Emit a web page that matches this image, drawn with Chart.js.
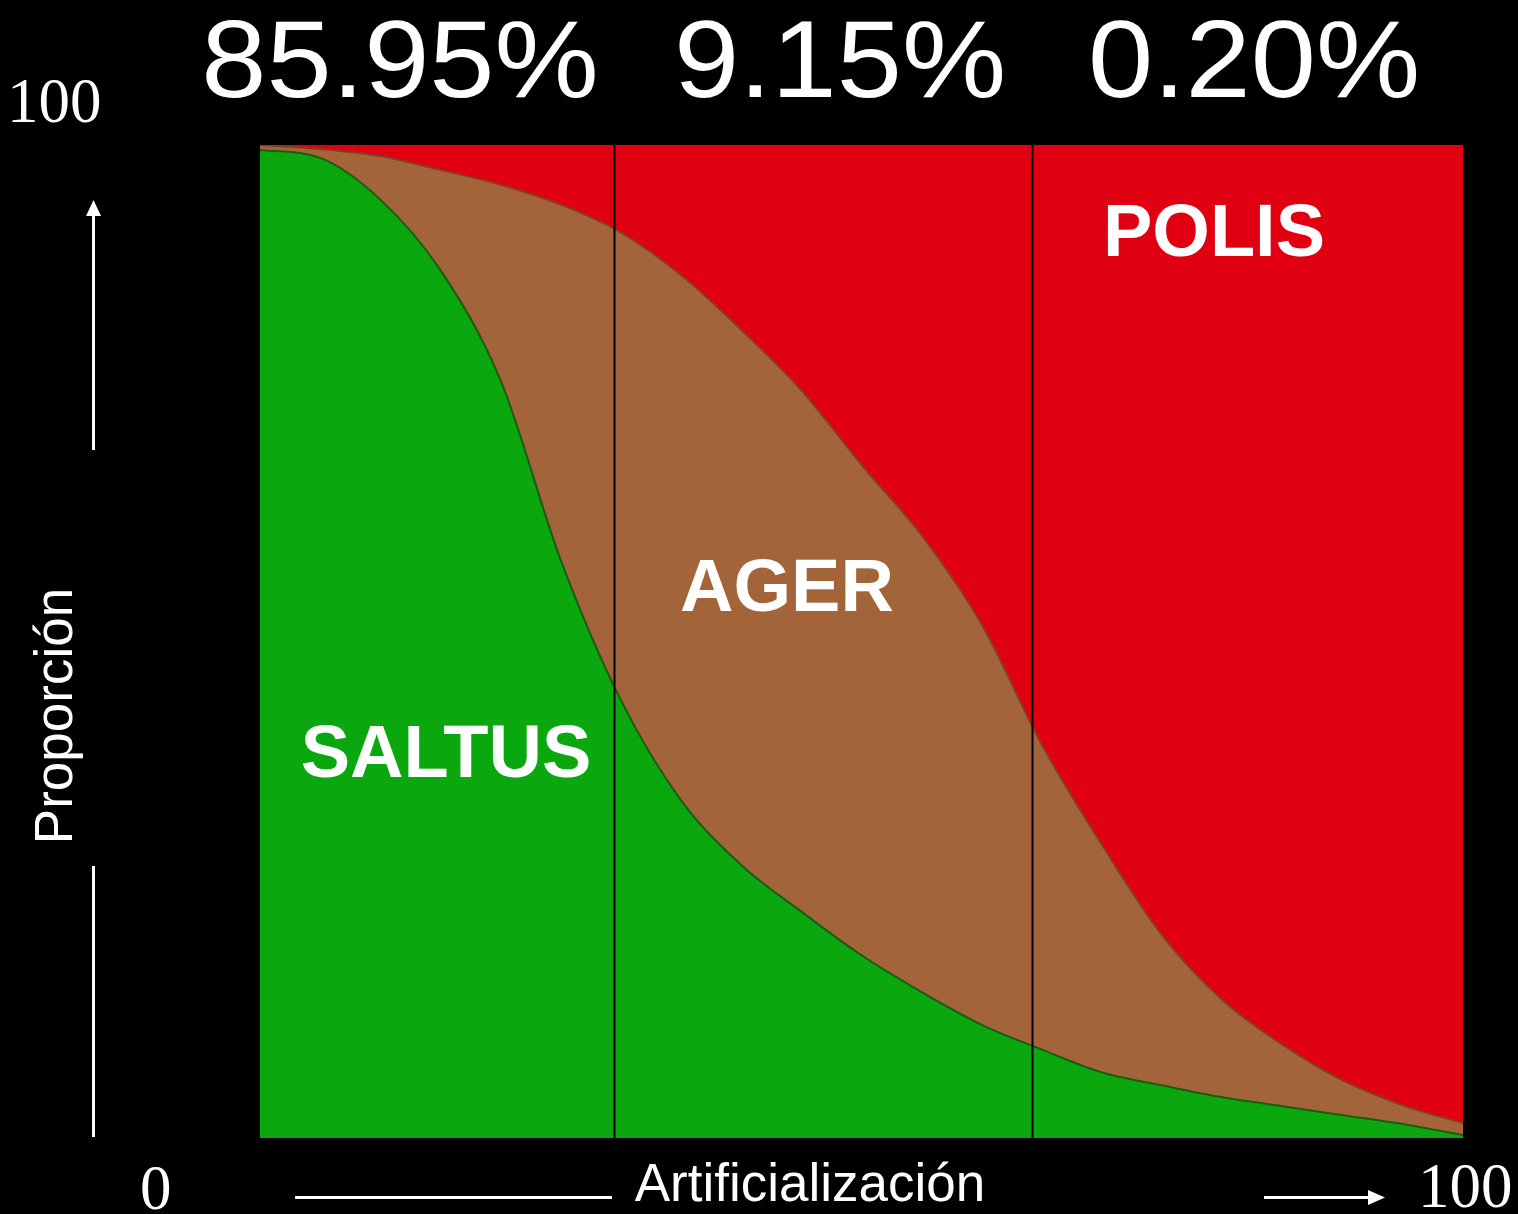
<!DOCTYPE html>
<html>
<head>
<meta charset="utf-8">
<script src="https://cdn.jsdelivr.net/npm/chart.js@4.4.1/dist/chart.umd.min.js"></script>
<style>
  body { margin:0; background:#000; }
  canvas { display:block; }
</style>
</head>
<body>
<canvas id="Chart1" width="1518" height="1214"></canvas>
<script>
// artificializacion (0-100) and share of each zone
let artificializacion = [0, 5, 10, 15, 20, 25, 30, 35, 40, 45, 50, 55, 60, 65, 70, 75, 80, 85, 90, 95, 100]
let saltus = [99.5, 98.7, 94.5, 87.4, 76.3, 58.2, 44.1, 34.0, 27.5, 22.8, 18.4, 14.7, 11.4, 8.9, 6.6, 5.3, 4.1, 3.2, 2.3, 1.4, 0.3]
let ager   = [0.5, 0.9, 4.4, 10.1, 19.7, 35.8, 47.1, 52.9, 53.9, 52.5, 49.4, 46.0, 40.3, 30.7, 22.9, 15.1, 9.8, 6.2, 3.5, 1.9, 1.2]
let polis  = [0, 0.4, 1.1, 2.5, 4.0, 6.0, 8.8, 13.1, 18.6, 24.7, 32.2, 39.3, 48.3, 60.4, 70.5, 79.6, 86.1, 90.6, 94.2, 96.7, 98.5]

let cortes = [29.4, 64.2]
let porcentajes = ["85.95%", "9.15%", "0.20%"]

const pts = arr => arr.map((v, i) => ({ x: artificializacion[i], y: v }))

const extras = {
    id: "extras",
    afterDatasetsDraw(chart) {
        const ctx = chart.ctx
        const { top, bottom } = chart.chartArea
        const xs = chart.scales.x
        ctx.save()
        // separadores
        ctx.strokeStyle = "#000"
        ctx.lineWidth = 2
        cortes.forEach(c => {
            const px = Math.round(xs.getPixelForValue(c)) + 0.5
            ctx.beginPath()
            ctx.moveTo(px, top)
            ctx.lineTo(px, bottom)
            ctx.stroke()
        })
        // porcentajes arriba
        ctx.fillStyle = "#fff"
        ctx.textAlign = "center"
        ctx.textBaseline = "alphabetic"
        ctx.font = "110px 'Liberation Sans', Arial, sans-serif"
        const centros = [400, 840, 1254]
        porcentajes.forEach((t, i) => {
            ctx.save()
            ctx.translate(centros[i], 97)
            ctx.scale(1.065, 1)
            ctx.fillText(t, 0, 0)
            ctx.restore()
        })
        // nombres de zonas
        ctx.font = "bold 74px 'Liberation Sans', Arial, sans-serif"
        ctx.textBaseline = "middle"
        ctx.fillText("SALTUS", 446, 757)
        ctx.fillText("AGER", 787, 591)
        ctx.fillText("POLIS", 1214, 236)
        // numeros de los ejes
        ctx.font = "63px 'Liberation Serif', 'Times New Roman', serif"
        ctx.textBaseline = "alphabetic"
        ctx.textAlign = "left"
        ctx.fillText("100", 7, 122)
        ctx.fillText("0", 140, 1209)
        ctx.fillText("100", 1418, 1207)
        // flechas
        ctx.strokeStyle = "#fff"
        ctx.lineWidth = 3
        ctx.beginPath()
        ctx.moveTo(93.5, 450); ctx.lineTo(93.5, 210)
        ctx.moveTo(93.5, 866); ctx.lineTo(93.5, 1137)
        ctx.moveTo(295, 1197.5); ctx.lineTo(612, 1197.5)
        ctx.moveTo(1264, 1197.5); ctx.lineTo(1372, 1197.5)
        ctx.stroke()
        ctx.fillStyle = "#fff"
        ctx.beginPath()
        ctx.moveTo(93.5, 200); ctx.lineTo(86, 216); ctx.lineTo(101, 216); ctx.closePath()
        ctx.fill()
        ctx.beginPath()
        ctx.moveTo(1385, 1197.5); ctx.lineTo(1368, 1190); ctx.lineTo(1368, 1205); ctx.closePath()
        ctx.fill()
        // titulos
        ctx.font = "53px 'Liberation Sans', Arial, sans-serif"
        ctx.textAlign = "center"
        ctx.textBaseline = "alphabetic"
        ctx.fillText("Artificialización", 810, 1201)
        ctx.translate(57, 716)
        ctx.rotate(-Math.PI / 2)
        ctx.textBaseline = "middle"
        ctx.fillText("Proporción", 0, 0)
        ctx.restore()
    }
}

new Chart(document.getElementById("Chart1"), {
    type: "line",
    data: {
        datasets: [{
            label: "SALTUS",
            data: pts(saltus),
            backgroundColor: "#0aa80e",
            borderColor: "#1d5a12",
            borderWidth: 2,
            fill: "origin"
        },
        {
            label: "AGER",
            data: pts(ager),
            backgroundColor: "#a36439",
            borderColor: "#8a3a22",
            borderWidth: 2,
            fill: "-1"
        },
        {
            label: "POLIS",
            data: pts(polis),
            backgroundColor: "#e00012",
            borderColor: "#e00012",
            borderWidth: 0,
            fill: "-1"
        }]
    },
    options: {
        responsive: false,
        animation: false,
        layout: { padding: { left: 260, right: 55, top: 145, bottom: 76 } },
        elements: {
            point: { radius: 0 },
            line: { cubicInterpolationMode: "monotone" }
        },
        scales: {
            x: { type: "linear", min: 0, max: 100, display: false },
            y: { stacked: true, min: 0, max: 100, display: false }
        },
        plugins: {
            legend: { display: false },
            tooltip: { enabled: false }
        }
    },
    plugins: [extras]
})
</script>
</body>
</html>
